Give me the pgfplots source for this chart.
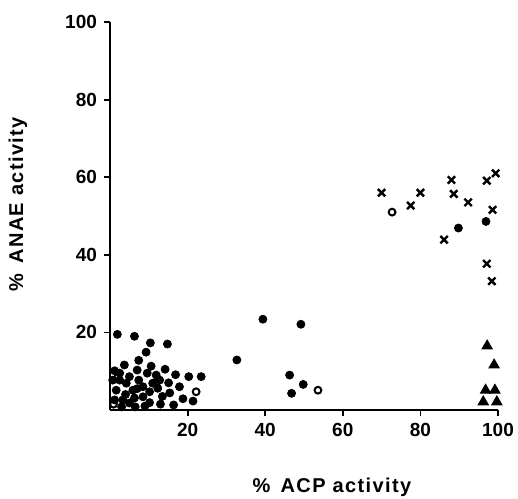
\documentclass[border=0pt]{standalone}
\usepackage{pgfplots}
\pgfplotsset{compat=1.18}
\usepackage{fontspec}
\setmainfont{Liberation Sans}

\begin{document}
\begin{tikzpicture}
\path[use as bounding box] (-55pt,-44pt) rectangle (204pt,205pt);
\begin{axis}[
    at={(0,0)}, anchor=origin,
    width=194pt, height=194pt,
    scale only axis,
    xmin=0, xmax=100, ymin=0, ymax=100,
    axis lines*=left,
    axis line style={line width=1pt},
    xtick={20,40,60,80,100},
    ytick={20,40,60,80,100},
    tick align=outside,
    major tick length=3pt,
    tick style={line width=0.9pt, black},
    tick label style={font=\fontsize{9.5}{11}\selectfont\bfseries},
    /pgf/number format/assume math mode=true,
    clip=false,
    xlabel={\% \,ACP activity},
    ylabel={\% \,ANAE activity},
    label style={font=\fontsize{10}{12}\selectfont\bfseries\addfontfeature{LetterSpace=7}},
    x label style={at={(axis description cs:0.572,-0.2)}, anchor=center},
    y label style={at={(axis description cs:-0.237,0.53)}, anchor=center, rotate=0},
]
% filled circles
\addplot[only marks, mark=*, mark size=2pt, black] coordinates {
(1.9,19.5) (6.3,19.0) (10.4,17.3) (14.8,17.0) (9.3,14.9) (7.4,12.8)
(3.7,11.6) (10.6,11.3) (14.2,10.5) (7.0,10.3) (16.9,9.1) (20.3,8.6)
(23.5,8.6) (1.2,10.1) (9.6,9.5) (7.4,7.7) (11.9,9.0) (15.1,7.0)
(17.9,6.0) (12.3,5.6) (15.4,4.4) (18.8,2.9) (21.4,2.3) (16.4,1.3)
(13.0,1.5) (10.2,1.9) (8.5,3.4) (5.9,5.1) (4.2,6.9) (2.5,7.7)
(1.6,5.1) (3.3,2.6) (5.0,1.8) (6.3,3.1) (11.0,6.9) (10.2,4.7)
(1.2,2.6) (2.5,9.5) (0.7,7.7) (5.0,8.6) (8.5,6.0) (12.8,7.7)
(4.0,4.0) (7.0,5.5) (9.0,1.0) (13.5,3.5) (3.0,0.8) (6.5,0.8)
(32.7,12.9) (39.4,23.4) (49.2,22.1) (46.3,9.0) (46.8,4.3) (49.8,6.6)
(89.8,46.9) (96.9,48.6)
};
% open circles
\addplot[only marks, mark=o, mark size=1.7pt, mark options={line width=1pt, fill=white}, black] coordinates {
(22.2,4.7) (0.9,1.5) (53.6,5.1) (72.7,51.0) (12.0,7.2) (2.0,8.4)
};
% crosses
\addplot[only marks, mark=x, mark size=2.6pt, mark options={line width=1.2pt}, black] coordinates {
(70.0,56.0) (77.5,52.7) (80.0,56.0) (88.0,59.3) (88.6,55.7) (92.3,53.5)
(86.1,43.9) (97.1,59.1) (99.4,61.0) (98.6,51.6) (97.1,37.7) (98.4,33.2)
};
% triangles
\addplot[only marks, mark=triangle*, mark size=3pt, black] coordinates {
(97.2,16.5) (99.0,11.6) (96.8,5.1) (99.2,5.1) (96.2,2.1) (99.7,2.1)
};
\end{axis}
\end{tikzpicture}
\end{document}
